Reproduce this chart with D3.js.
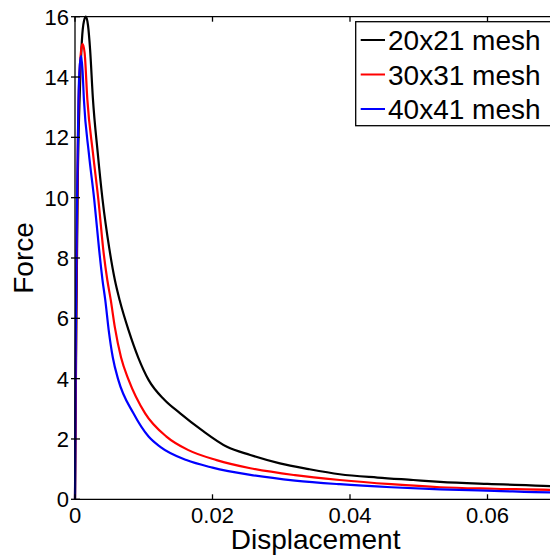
<!DOCTYPE html>
<html lang="en">
    <head>
        <meta charset="utf-8">
        <title>Force vs displacement</title>
        <script src="https://d3js.org/d3.v7.min.js"></script>
        <style type="text/css">
          body { margin: 0; background: #fff; }
          svg { width: 550px; height: 558px; display: block; }
          .tick-label { font-family: "Liberation Sans", Arial, sans-serif; font-size: 22px; fill: #000; }
          .axis-label { font-family: "Liberation Sans", Arial, sans-serif; font-size: 28px; fill: #000; }
          .legend-text { font-family: "Liberation Sans", Arial, sans-serif; font-size: 28px; fill: #000; }
        </style>
    </head>
    <body>
        <svg></svg>
        <script type="text/javascript">

// data: [displacement, force]
const mesh20 = [[0,0],[0.0002,6],[0.0004,10.5],[0.0007,13.5],[0.0010,15.2],[0.0013,15.85],[0.0016,16.0],[0.0019,15.7],
  [0.0022,14.9],[0.0026,13.3],[0.0033,11.5],[0.0040,9.95],[0.0050,8.3],[0.0058,7.27],[0.0065,6.6],[0.0078,5.6],
  [0.0092,4.7],[0.0107,3.96],[0.0130,3.3],[0.0153,2.85],[0.0184,2.3],[0.0221,1.74],[0.0255,1.47],[0.0298,1.19],
  [0.0340,1.0],[0.0385,0.83],[0.0440,0.72],[0.0492,0.64],[0.0531,0.58],[0.0600,0.51],[0.0691,0.44],[0.0700,0.43]];
const mesh30 = [[0,0],[0.0002,7],[0.0004,11.5],[0.0006,13.8],[0.0009,14.9],[0.0011,15.1],[0.0014,14.8],[0.0018,13.24],
  [0.0026,11.5],[0.0034,9.93],[0.0042,8.1],[0.0047,7.27],[0.0052,6.61],[0.0058,5.7],[0.0067,4.7],[0.0078,3.96],
  [0.0102,2.85],[0.0133,2.08],[0.0165,1.63],[0.0206,1.30],[0.0255,1.03],[0.0320,0.80],[0.0385,0.64],[0.0460,0.50],
  [0.0531,0.40],[0.0610,0.35],[0.0691,0.31],[0.0700,0.30]];
const mesh40 = [[0,0],[0.0001,5],[0.0003,10],[0.0005,13.2],[0.0007,14.4],[0.0009,14.7],[0.0011,14.2],[0.0013,13.24],
  [0.0020,11.5],[0.0028,9.93],[0.0035,8.3],[0.0040,7.27],[0.0044,6.61],[0.0049,5.61],[0.0055,4.7],[0.0063,3.96],
  [0.0085,2.85],[0.0107,2.08],[0.0124,1.74],[0.0162,1.30],[0.0200,1.05],[0.0255,0.81],[0.0320,0.62],[0.0385,0.50],
  [0.0460,0.40],[0.0531,0.33],[0.0610,0.28],[0.0691,0.23],[0.0700,0.23]];

const seriesNames = ["20x21 mesh", "30x31 mesh", "40x41 mesh"];
const seriesColors = ["#000000", "#ff0000", "#0000ff"];
const xTicks = [0, 0.02, 0.04, 0.06];
const xTickLabels = ["0", "0.02", "0.04", "0.06"];
const yTicks = [0, 2, 4, 6, 8, 10, 12, 14, 16];

const svg = d3.select("svg");

// plot box (right edge falls just outside the picture)
const boxLeft = 75, boxRight = 556.25, boxTop = 16.7, boxBottom = 499.3;

const x = d3.scaleLinear().domain([0, 0.07]).range([boxLeft, boxRight]);
const y = d3.scaleLinear().domain([0, 16]).range([boxBottom, boxTop]);

//curves
const line = d3.line()
  .x(d => x(d[0]))
  .y(d => y(d[1]))
  .curve(d3.curveMonotoneX);

[mesh20, mesh30, mesh40].forEach((s, i) => {
  svg.append("path")
     .attr("d", line(s))
     .attr("fill", "none")
     .attr("stroke", seriesColors[i])
     .attr("stroke-width", 2.2);
});

//box and ticks
const frame = svg.append("g").attr("stroke", "#000").attr("stroke-width", 1.3);
frame.append("line").attr("x1", boxLeft).attr("x2", boxLeft).attr("y1", boxTop).attr("y2", boxBottom);
frame.append("line").attr("x1", boxLeft).attr("x2", boxRight).attr("y1", boxBottom).attr("y2", boxBottom);
frame.append("line").attr("x1", boxLeft).attr("x2", boxRight).attr("y1", boxTop).attr("y2", boxTop);
frame.append("line").attr("x1", boxRight).attr("x2", boxRight).attr("y1", boxTop).attr("y2", boxBottom);

xTicks.forEach(t => {
  frame.append("line").attr("x1", x(t)).attr("x2", x(t)).attr("y1", boxBottom).attr("y2", boxBottom - 5);
  frame.append("line").attr("x1", x(t)).attr("x2", x(t)).attr("y1", boxTop).attr("y2", boxTop + 5);
});
yTicks.forEach(t => {
  frame.append("line").attr("x1", boxLeft - 4).attr("x2", boxLeft + 5).attr("y1", y(t)).attr("y2", y(t));
});

svg.selectAll(".xl")
   .data(xTicks)
   .enter()
   .append("text")
   .attr("class", "tick-label")
   .attr("x", d => x(d))
   .attr("y", 523)
   .attr("text-anchor", "middle")
   .text((d, i) => xTickLabels[i]);

svg.selectAll(".yl")
   .data(yTicks)
   .enter()
   .append("text")
   .attr("class", "tick-label")
   .attr("x", 69)
   .attr("y", d => y(d) + 8)
   .attr("text-anchor", "end")
   .text(d => d);

//axis titles
svg.append("text")
   .attr("class", "axis-label")
   .attr("x", (boxLeft + boxRight) / 2)
   .attr("y", 549)
   .attr("text-anchor", "middle")
   .text("Displacement");

svg.append("text")
   .attr("class", "axis-label")
   .attr("transform", "translate(33," + ((boxTop + boxBottom) / 2) + ") rotate(-90)")
   .attr("text-anchor", "middle")
   .text("Force");

//legend
const legend = svg.append("g");
legend.append("rect")
      .attr("x", 355.7).attr("y", 21.7)
      .attr("width", 240).attr("height", 104)
      .attr("fill", "#fff")
      .attr("stroke", "#000")
      .attr("stroke-width", 1.3);

seriesNames.forEach((name, i) => {
  const ly = 40 + i * 34.5;
  legend.append("line")
        .attr("x1", 360.7).attr("x2", 385)
        .attr("y1", ly).attr("y2", ly)
        .attr("stroke", seriesColors[i])
        .attr("stroke-width", 2);
  legend.append("text")
        .attr("class", "legend-text")
        .attr("x", 388)
        .attr("y", ly + 10)
        .text(name);
});

        </script>
    </body>
</html>
